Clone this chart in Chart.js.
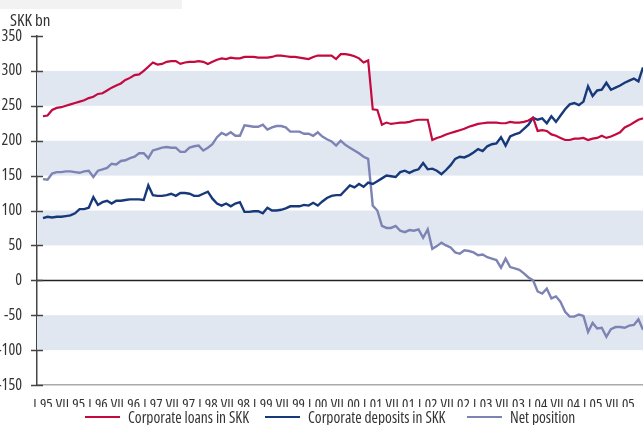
<!DOCTYPE html>
<html>
<head>
<meta charset="utf-8">
<script src="https://cdn.jsdelivr.net/npm/chart.js@4"></script>
<style>
  body { margin: 0; background: #fff; }
  #wrap { position: relative; width: 643px; height: 425px; overflow: hidden; }
  #topbar { position: absolute; left: 0; top: 0; width: 182px; height: 9px; background: #f2f2f2; }
  #unit, #legend { font-family: "Open Sans", sans-serif; font-stretch: condensed; color: #333; }
  #unit { position: absolute; left: 10px; top: 8px; font-size: 17px; font-weight: 500; }
  #legend { position: absolute; left: 0; right: 0; top: 406px; height: 22px; font-size: 15.5px; font-weight: 500; line-height: 22px; }
  #legend .item { position: absolute; top: 0; display: flex; align-items: center; white-space: nowrap; }
  #legend .swatch { width: 35px; height: 0; border-top: 2.6px solid; margin-right: 8px; }
</style>
</head>
<body>
<div id="wrap">
  <canvas id="chart" width="643" height="425"></canvas>
  <div id="topbar"></div>
  <div id="unit">SKK bn</div>
  <div id="legend"></div>
</div>
<script>
// monthly values, I.1995 - XII.2005 (SKK bn)
const loans = [
  235, 236, 244, 247, 248, 250, 252, 254, 256, 258,
  261, 263, 267, 268, 272, 276, 279, 282, 287, 290,
  294, 295, 300, 306, 312, 309, 310, 313, 314, 314,
  310, 312, 313, 313, 314, 313, 310, 313, 316, 318,
  317, 319, 318, 318, 320, 320, 320, 319, 319, 319,
  320, 322, 322, 321, 320, 320, 319, 318, 317, 320,
  322, 322, 322, 322, 317, 324, 324, 323, 321, 318,
  312, 315, 245, 244, 223, 226, 224, 225, 226, 226,
  227, 229, 230, 230, 230, 201, 204, 206, 209, 211,
  213, 215, 217, 220, 222, 224, 225, 226, 226, 226,
  225, 225, 227, 226, 226, 227, 229, 233, 214, 215,
  214, 209, 207, 204, 201, 201, 203, 203, 204, 201,
  203, 204, 207, 204, 206, 209, 212, 219, 222, 226,
  230, 232
];
const deposits = [
  89, 91, 90, 91, 91, 92, 93, 96, 102, 102,
  104, 119, 108, 112, 114, 110, 114, 114, 115, 116,
  116, 116, 115, 136, 122, 121, 121, 122, 124, 121,
  125, 125, 124, 121, 121, 124, 127, 117, 110, 107,
  110, 106, 110, 112, 98, 98, 99, 99, 96, 104,
  100, 100, 101, 103, 106, 106, 106, 108, 107, 111,
  107, 113, 118, 121, 122, 122, 129, 136, 133, 138,
  134, 140, 138, 142, 146, 150, 149, 148, 155, 157,
  154, 157, 159, 168, 159, 160, 157, 152, 158, 165,
  174, 177, 176, 179, 183, 188, 185, 192, 195, 196,
  205, 193, 206, 209, 211, 217, 223, 233, 230, 232,
  225, 235, 227, 236, 245, 252, 254, 251, 256, 278,
  264, 272, 273, 283, 273, 276, 279, 283, 286, 289,
  285, 305
];
const netPosition = [
  145, 144, 153, 155, 155, 156, 156, 155, 154, 156,
  157, 148, 157, 159, 161, 167, 166, 171, 172, 175,
  177, 182, 182, 175, 186, 188, 190, 191, 190, 190,
  184, 184, 190, 192, 193, 186, 190, 195, 205, 211,
  208, 212, 207, 207, 222, 221, 220, 220, 223, 216,
  219, 221, 221, 219, 213, 213, 213, 210, 210, 207,
  212, 206, 202, 199, 193, 200, 194, 190, 186, 182,
  177, 174, 107, 100, 78, 75, 75, 78, 71, 69,
  72, 71, 73, 61, 73, 45, 49, 54, 50, 47,
  40, 38, 43, 42, 40, 36, 37, 33, 31, 29,
  18, 31, 19, 17, 15, 10, 4, 0, -16, -19,
  -12, -26, -23, -31, -45, -52, -52, -49, -51, -74,
  -61, -69, -68, -81, -70, -67, -67, -68, -65, -64,
  -56, -71
];
const monthLabels = [
  "I.95", "VII.95", "I.96", "VII.96", "I.97", "VII.97", "I.98", "VII.98",
  "I.99", "VII.99", "I.00", "VII.00", "I.01", "VII.01", "I.02", "VII.02",
  "I.03", "VII.03", "I.04", "VII.04", "I.05", "VII.05"
];
const seriesNames = ["Corporate loans in SKK", "Corporate deposits in SKK", "Net position"];
const seriesColors = ["#c4093f", "#17397a", "#7d84b4"];
const bands = [[250, 300], [150, 200], [50, 100], [-100, -50]];

// condensed Open Sans; weight slot carries the stretch keyword into the canvas font string
const tickFont = { family: '"Open Sans"', weight: "500 condensed", size: 16 };
const toPoints = arr => arr.map((v, i) => ({ x: i, y: v }));

// shaded horizontal bands + zero line + y ticks crossing the axis
const decor = {
  id: "decor",
  beforeDatasetsDraw(chart) {
    const { ctx, chartArea: a, scales: { y } } = chart;
    ctx.save();
    ctx.fillStyle = "#e1e7f1";
    bands.forEach(([lo, hi]) => {
      const top = y.getPixelForValue(hi), bot = y.getPixelForValue(lo);
      ctx.fillRect(a.left, top, a.right - a.left, bot - top);
    });
    ctx.strokeStyle = "#222";
    ctx.lineWidth = 1.5;
    const z = Math.round(y.getPixelForValue(0)) + 0.5;
    ctx.beginPath();
    ctx.moveTo(a.left, z);
    ctx.lineTo(a.right, z);
    ctx.stroke();
    ctx.restore();
  },
  afterDraw(chart) {
    const { ctx, chartArea: a, scales: { y } } = chart;
    ctx.save();
    ctx.strokeStyle = "#444";
    ctx.lineWidth = 1.5;
    y.ticks.forEach(t => {
      const py = Math.round(y.getPixelForValue(t.value)) + 0.5;
      ctx.beginPath();
      ctx.moveTo(a.left - 6, py);
      ctx.lineTo(a.left + 6, py);
      ctx.stroke();
    });
    ctx.restore();
  }
};

const chart = new Chart(document.getElementById("chart"), {
  type: "line",
  data: {
    datasets: [
      { label: seriesNames[0], data: toPoints(loans), borderColor: seriesColors[0], borderWidth: 2.2 },
      { label: seriesNames[1], data: toPoints(deposits), borderColor: seriesColors[1], borderWidth: 2.4 },
      { label: seriesNames[2], data: toPoints(netPosition), borderColor: seriesColors[2], borderWidth: 2.4 }
    ]
  },
  options: {
    responsive: false,
    animation: false,
    events: [],
    elements: { point: { radius: 0 }, line: { tension: 0 } },
    layout: { padding: { top: 36, right: 0, left: 0, bottom: 18 } },
    scales: {
      x: {
        type: "linear",
        min: -1.3,
        max: 131,
        afterBuildTicks: s => { s.ticks = monthLabels.map((_, i) => ({ value: i * 6 })); },
        afterFit: s => { s.height = 22; },
        ticks: {
          autoSkip: false,
          maxRotation: 0,
          padding: 3,
          color: "#333",
          font: { ...tickFont, size: 15 },
          callback: (v, i) => monthLabels[i]
        },
        grid: { display: false },
        border: { display: true, color: "#aaa", width: 1.5 }
      },
      y: {
        min: -150,
        max: 350,
        afterFit: s => { s.width = 37; },
        ticks: { stepSize: 50, padding: 7, color: "#333", font: tickFont },
        grid: { display: false },
        border: { display: true, color: "#444", width: 1.5 }
      }
    },
    plugins: { legend: { display: false }, tooltip: { enabled: false } }
  },
  plugins: [decor]
});

// legend row under the axis, built from the chart's datasets
const legendX = [85, 265, 467];
const legendEl = document.getElementById("legend");
chart.data.datasets.forEach((ds, i) => {
  const item = document.createElement("div");
  item.className = "item";
  item.style.left = legendX[i] + "px";
  const sw = document.createElement("span");
  sw.className = "swatch";
  sw.style.borderColor = ds.borderColor;
  const txt = document.createElement("span");
  txt.textContent = ds.label;
  item.append(sw, txt);
  legendEl.append(item);
});
</script>
</body>
</html>
